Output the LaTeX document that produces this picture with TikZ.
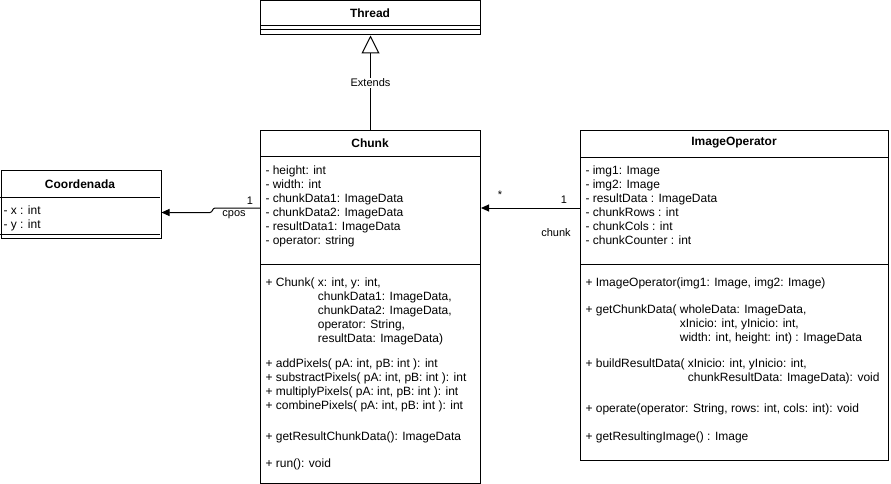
\documentclass[tikz,border=0pt]{standalone}
\usepackage{fontspec}
\setmainfont{Liberation Sans}
\usetikzlibrary{arrows.meta}
\tikzset{
  classbox/.style={draw, anchor=north west, inner sep=0pt},
  cname/.style={font=\fontsize{12}{14}\selectfont\bfseries},
  members/.style={anchor=north west, align=left, inner sep=0pt, font=\fontsize{12}{14}\selectfont},
  lbl/.style={font=\fontsize{11}{13}\selectfont, inner sep=1pt},
  assoc/.style={-{Triangle[length=8pt,width=7pt]}},
  extends/.style={-{Triangle[open,length=18pt,width=18pt]}},
}
\begin{document}
\begin{tikzpicture}[x=1pt,y=-1pt,line width=1pt]
\useasboundingbox (0,0) rectangle (891,484);

	% Thread
	\node[classbox, minimum width=220pt, minimum height=34pt] (thread) at (260,0.5) {};
	\draw (260,26) -- (480,26) (260,30) -- (480,30);
	\node[cname] (threadname) at (370,13) {Thread};

	% Chunk
	\node[classbox, minimum width=220pt, minimum height=353pt] (chunk) at (260,130) {};
	\draw (260,156) -- (480,156) (260,264) -- (480,264);
	\node[cname] (chunkname) at (370,143) {Chunk};
	\node[members] (chunkattr) at (265,165) {- height: int\\- width: int\\- chunkData1: ImageData\\- chunkData2: ImageData\\- resultData1: ImageData\\- operator: string};
	\node[members] (chunkops) at (265,277) {+ Chunk( x: int, y: int,\\
		\phantom{+ Chunk( }chunkData1: ImageData,\\
		\phantom{+ Chunk( }chunkData2: ImageData,\\
		\phantom{+ Chunk( }operator: String,\\
		\phantom{+ Chunk( }resultData: ImageData)\\[11pt]
		+ addPixels( pA: int, pB: int ): int\\
		+ substractPixels( pA: int, pB: int ): int\\
		+ multiplyPixels( pA: int, pB: int ): int\\
		+ combinePixels( pA: int, pB: int ): int\\[17pt]
		+ getResultChunkData(): ImageData\\[13pt]
		+ run(): void};

	% Coordenada
	\node[classbox, minimum width=160pt, minimum height=68pt] (coord) at (0.5,170) {};
	\draw (0,197) -- (160,197) (0,234) -- (160,234);
	\node[cname] (coordname) at (80,184) {Coordenada};
	\node[members] (coordattr) at (3,205) {- x : int\\- y : int};

	% ImageOperator
	\node[classbox, minimum width=308pt, minimum height=330pt] (imgop) at (580,130) {};
	\draw (580,157) -- (888,157) (580,264) -- (888,264);
	\node[cname] (imgopname) at (734,143) {ImageOperator};
	\node[members] (imgopattr) at (585,165) {- img1: Image\\- img2: Image\\- resultData : ImageData\\- chunkRows : int\\- chunkCols : int\\- chunkCounter : int};
	\node[members] (imgopops) at (585,277) {+ ImageOperator(img1: Image, img2: Image)\\[13pt]
		+ getChunkData( wholeData: ImageData,\\
		\phantom{+ getChunkData( }xInicio: int, yInicio: int,\\
		\phantom{+ getChunkData( }width: int, height: int) : ImageData\\[12pt]
		+ buildResultData( xInicio: int, yInicio: int,\\
		\phantom{+ buildResultData( }chunkResultData: ImageData): void\\[17pt]
		+ operate(operator: String, rows: int, cols: int): void\\[14pt]
		+ getResultingImage() : Image};

	% connectors
	\draw[extends] (chunk.north) -- node[lbl, fill=white] (extlbl) {Extends} (thread.south);

	\coordinate (cposA) at ([yshift=-78pt]chunk.north west);
	\coordinate (cposB) at ([yshift=-42.5pt]coord.north east);
	\draw[assoc] (cposA) -- ++(-45,0) to[out=180,in=0] ++(-5,4.5) -- (cposB);
	\node[lbl] (cposone) at (250,201) {1};
	\node[lbl] (cposlbl) at (234,215) {cpos};

	\draw[assoc] ([yshift=-78pt]imgop.north west) -- ([yshift=-78pt]chunk.north east);
	\node[lbl] (chunkstar) at (500,195) {*};
	\node[lbl] (chunkone) at (564,200) {1};
	\node[lbl] (chunklbl) at (556,233) {chunk};
\end{tikzpicture}
\end{document}
